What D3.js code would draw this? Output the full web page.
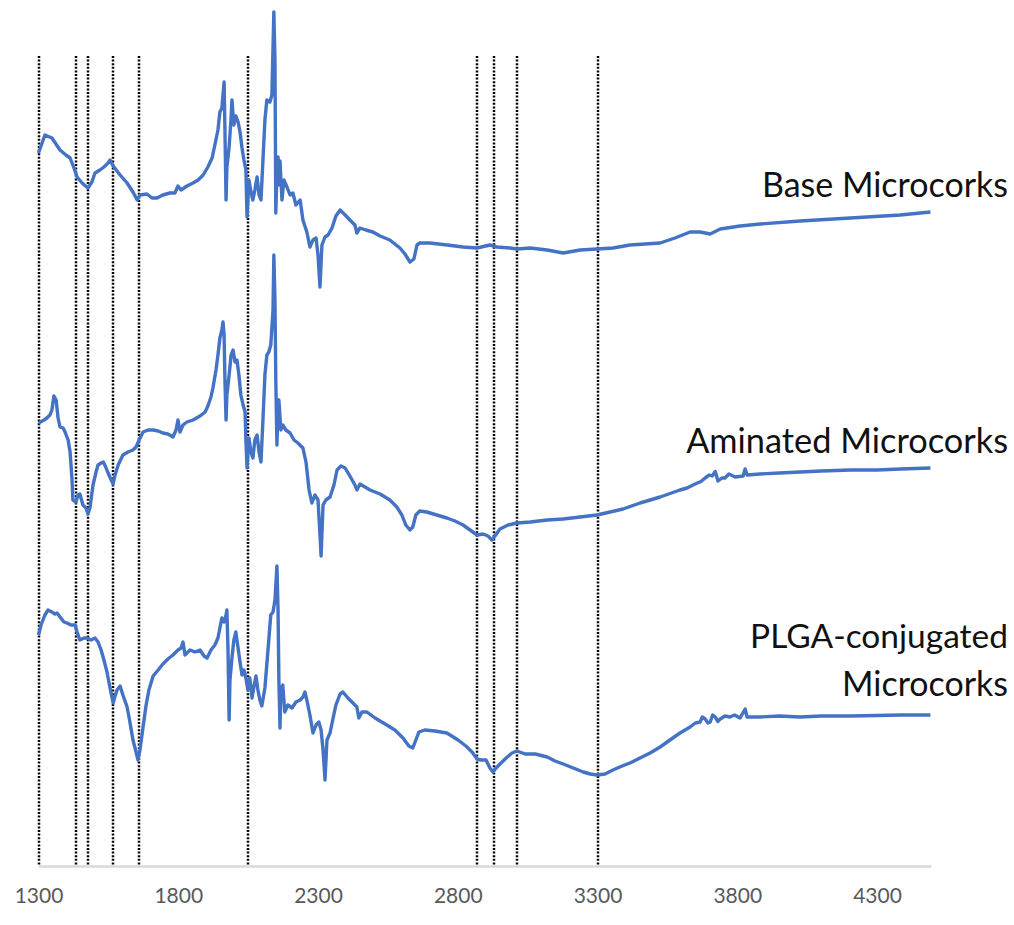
<!DOCTYPE html>
<html>
<head>
<meta charset="utf-8">
<script src="https://cdn.jsdelivr.net/npm/d3@7"></script>
<style>
  html, body { margin: 0; padding: 0; background: #fff; }
  svg { display: block; }
</style>
</head>
<body>
<svg id="chart" width="1014" height="925"></svg>
<script>
// FTIR spectra of cork microparticles, stacked with vertical offsets.
// Each series: [wavenumber (cm-1), offset intensity (a.u.)]
const baseMicrocorks = [
  [1300,142.6],[1323,146.2],[1348,145.6],[1377,143.2],[1398,142.2],[1413,141.6],[1427,139.6],[1438,137.8],
  [1456,136.6],[1477,135.6],[1491,136.8],[1502,138.6],[1520,139.2],[1534,139.8],[1549,140.6],[1556,141.2],
  [1567,140.0],[1592,138.2],[1617,136.6],[1638,134.8],[1653,133.2],[1663,134.2],[1688,134.4],[1706,133.6],
  [1724,133.6],[1745,134.2],[1770,134.6],[1788,134.6],[1799,136.0],[1810,135.2],[1831,136.0],[1853,136.6],
  [1871,137.2],[1889,138.2],[1906,139.8],[1921,141.6],[1931,144.2],[1942,147.2],[1949,150.8],[1956,151.6],
  [1964,156.8],[1967,147.2],[1971,133.2],[1974,139.8],[1982,143.8],[1989,149.6],[1992,153.2],[1999,148.2],
  [2006,150.0],[2014,148.8],[2021,146.8],[2028,143.6],[2035,141.2],[2042,139.2],[2046,129.8],[2053,137.2],
  [2060,134.8],[2067,133.2],[2074,135.2],[2082,137.8],[2089,134.2],[2096,133.2],[2103,141.2],[2110,149.2],
  [2117,153.2],[2128,152.8],[2135,154.2],[2142,170.8],[2146,161.2],[2149,130.6],[2153,139.2],[2157,141.8],
  [2160,136.2],[2164,141.0],[2171,133.2],[2178,137.2],[2189,135.8],[2200,134.2],[2210,134.6],[2221,132.2],
  [2236,133.2],[2246,129.2],[2260,126.8],[2271,123.8],[2282,125.2],[2293,125.6],[2300,122.2],[2307,115.8],
  [2314,124.2],[2325,125.8],[2336,126.2],[2350,127.6],[2364,130.0],[2379,131.2],[2397,130.2],[2414,129.2],
  [2432,128.2],[2439,126.6],[2450,127.6],[2471,127.2],[2496,126.8],[2522,126.0],[2557,125.2],[2593,123.6],
  [2611,122.4],[2629,120.8],[2643,121.4],[2654,124.2],[2664,124.6],[2700,124.6],[2762,124.2],[2819,123.8],
  [2869,123.6],[2915,124.2],[2940,123.8],[2987,123.6],[3012,123.4],[3059,123.6],[3120,123.2],[3177,122.6],
  [3238,123.2],[3298,123.4],[3355,123.6],[3416,124.2],[3470,124.4],[3524,124.6],[3577,125.6],[3631,126.8],
  [3667,126.8],[3703,126.4],[3739,127.4],[3810,128.0],[3882,128.4],[4025,129.0],[4204,129.6],[4383,130.2],
  [4491,130.8]
];

const aminatedMicrocorks = [
  [1300,88.6],[1320,89.2],[1330,89.6],[1341,90.2],[1348,91.2],[1355,94.0],[1363,93.2],[1370,89.6],
  [1377,87.8],[1388,87.6],[1395,86.8],[1406,85.2],[1413,82.8],[1420,77.2],[1423,73.2],[1434,72.8],
  [1441,74.2],[1448,74.4],[1459,72.2],[1470,71.6],[1477,70.4],[1484,71.6],[1495,76.2],[1506,78.8],
  [1513,80.2],[1524,80.6],[1532,80.8],[1542,79.6],[1549,78.6],[1560,77.2],[1567,76.4],[1574,78.2],
  [1585,80.2],[1602,82.2],[1620,82.8],[1638,83.2],[1649,83.8],[1660,85.2],[1674,86.8],[1692,87.2],
  [1710,87.2],[1728,87.0],[1745,86.6],[1763,86.4],[1781,85.8],[1792,87.2],[1799,89.2],[1806,86.8],
  [1817,88.2],[1831,88.8],[1853,89.2],[1878,90.0],[1896,90.8],[1906,92.0],[1917,93.8],[1924,95.6],
  [1935,99.2],[1942,102.2],[1949,105.6],[1956,107.2],[1960,108.8],[1964,106.2],[1967,97.2],[1971,89.2],
  [1974,94.2],[1982,98.2],[1989,102.2],[1996,103.2],[2003,100.8],[2010,101.2],[2017,98.2],[2024,94.2],
  [2032,92.2],[2039,90.8],[2042,85.2],[2046,79.6],[2053,85.6],[2060,82.8],[2067,81.6],[2074,85.2],
  [2082,86.2],[2089,82.8],[2096,80.8],[2103,89.2],[2110,98.2],[2117,102.2],[2124,102.8],[2131,104.2],
  [2139,111.2],[2142,122.2],[2146,113.2],[2149,97.2],[2153,84.2],[2157,92.2],[2160,93.2],[2167,87.2],
  [2174,88.2],[2185,87.2],[2200,86.6],[2214,85.2],[2228,84.6],[2246,83.6],[2257,80.8],[2268,75.2],
  [2278,72.6],[2289,74.2],[2300,73.2],[2307,66.2],[2311,62.0],[2318,72.2],[2328,73.2],[2343,73.8],
  [2357,76.2],[2368,79.2],[2382,80.0],[2397,79.6],[2414,78.0],[2432,76.2],[2439,75.2],[2450,76.4],
  [2468,75.8],[2486,75.2],[2522,74.4],[2557,73.2],[2582,71.8],[2600,70.2],[2614,68.2],[2629,67.2],
  [2639,67.8],[2650,70.2],[2664,71.0],[2689,70.8],[2725,70.2],[2761,69.6],[2790,69.0],[2819,68.2],
  [2844,67.2],[2869,66.2],[2890,66.4],[2908,66.0],[2922,65.2],[2933,66.0],[2951,67.4],[2980,68.2],
  [3012,68.6],[3059,68.8],[3120,69.2],[3177,69.4],[3238,69.8],[3298,70.2],[3345,70.8],[3391,71.4],
  [3452,72.6],[3524,73.8],[3595,75.2],[3620,75.6],[3649,76.4],[3670,76.9],[3685,77.6],[3700,78.2],
  [3710,78.0],[3721,78.9],[3731,77.0],[3745,77.6],[3756,77.6],[3770,78.4],[3792,77.8],[3821,78.0],
  [3828,79.4],[3835,78.2],[3882,78.4],[3950,78.6],[4025,78.8],[4100,79.0],[4204,79.2],[4300,79.2],
  [4383,79.4],[4491,79.6]
];

const plgaMicrocorks = [
  [1300,46.2],[1309,48.2],[1323,50.2],[1334,51.2],[1348,50.8],[1359,50.4],[1366,50.6],[1377,49.8],
  [1391,48.8],[1402,48.6],[1416,48.2],[1431,48.2],[1438,46.8],[1448,45.2],[1463,45.6],[1474,45.6],
  [1488,45.2],[1502,45.6],[1513,44.8],[1524,43.2],[1534,41.2],[1545,38.8],[1556,35.6],[1567,32.6],
  [1574,34.0],[1581,35.2],[1592,36.0],[1602,34.2],[1617,31.8],[1627,28.8],[1638,25.2],[1649,22.8],
  [1656,21.2],[1663,23.2],[1674,27.8],[1685,32.2],[1695,35.2],[1710,38.0],[1728,39.2],[1745,40.4],
  [1763,41.4],[1781,42.2],[1799,43.2],[1810,43.6],[1817,44.8],[1824,42.2],[1842,43.2],[1860,42.8],
  [1878,43.2],[1892,42.0],[1903,41.6],[1917,43.2],[1931,44.2],[1942,45.6],[1949,47.6],[1956,49.6],
  [1964,48.8],[1971,50.2],[1974,51.2],[1978,43.2],[1982,29.2],[1985,37.2],[1992,41.6],[1999,45.2],
  [2006,46.8],[2014,43.6],[2021,40.8],[2028,38.2],[2035,39.2],[2042,37.6],[2049,35.2],[2056,37.6],
  [2064,33.6],[2071,36.0],[2078,38.0],[2085,35.2],[2092,33.2],[2099,32.0],[2110,35.6],[2121,43.2],
  [2131,50.2],[2139,50.8],[2146,53.2],[2153,60.0],[2157,51.2],[2160,37.2],[2164,27.6],[2167,35.2],
  [2174,36.2],[2181,30.8],[2192,32.2],[2207,31.6],[2221,32.8],[2236,33.2],[2246,33.8],[2253,34.8],
  [2260,33.2],[2271,30.2],[2282,26.6],[2293,28.2],[2303,28.8],[2311,27.2],[2318,23.2],[2325,17.2],
  [2332,25.2],[2343,26.6],[2354,29.6],[2364,32.2],[2379,34.4],[2389,34.8],[2407,33.6],[2425,32.6],
  [2439,31.8],[2446,29.6],[2457,30.8],[2475,30.8],[2504,29.6],[2546,28.2],[2575,27.2],[2604,25.6],
  [2625,24.0],[2639,23.6],[2650,25.2],[2661,26.8],[2682,27.2],[2718,27.0],[2761,26.6],[2801,25.2],
  [2829,24.0],[2851,22.8],[2869,21.4],[2883,21.2],[2901,21.2],[2915,19.6],[2926,18.8],[2937,19.6],
  [2951,20.4],[2973,21.6],[2994,22.6],[3012,23.0],[3041,22.4],[3077,22.4],[3120,21.8],[3148,21.0],
  [3177,20.4],[3213,19.6],[3249,18.8],[3274,18.4],[3298,18.2],[3327,18.4],[3355,19.2],[3388,20.0],
  [3416,20.6],[3452,21.6],[3488,22.6],[3524,23.8],[3559,25.2],[3595,26.6],[3631,27.8],[3650,28.6],
  [3667,28.8],[3675,29.8],[3685,29.4],[3695,28.6],[3703,28.8],[3712,30.2],[3721,29.8],[3730,28.9],
  [3739,29.4],[3756,30.0],[3774,29.8],[3790,30.2],[3810,29.6],[3828,31.4],[3835,29.8],[3882,29.8],
  [3950,30.0],[4025,29.8],[4100,30.0],[4204,30.0],[4300,30.1],[4383,30.2],[4491,30.2]
];

// Marked band positions (cm-1)
const peakLines = [1300, 1434, 1477, 1567, 1658, 2048, 2868, 2931, 3013, 3300];
const peakLineTop = 162;

const tickValues = [1300, 1800, 2300, 2800, 3300, 3800, 4300];
const xDomain = [1300, 4493];
const yDomain = [0, 170];

const seriesNames = [["Base Microcorks"], ["Aminated Microcorks"], ["PLGA-conjugated", "Microcorks"]];

const svg = d3.select("#chart");
const x = d3.scaleLinear().domain(xDomain).range([38.5, 931]);
const y = d3.scaleLinear().domain(yDomain).range([866, 16]);

// dotted guide lines at the marked bands
svg.append("g")
  .selectAll("line")
  .data(peakLines)
  .join("line")
  .attr("x1", d => Math.round(x(d))).attr("x2", d => Math.round(x(d)))
  .attr("y1", y(peakLineTop)).attr("y2", y(0))
  .attr("stroke", "#000")
  .attr("stroke-width", 2.5)
  .attr("stroke-dasharray", "2,1.6");

// x axis
const axis = svg.append("g")
  .attr("transform", `translate(0,${y(0)})`)
  .call(d3.axisBottom(x).tickValues(tickValues).tickFormat(d3.format("d"))
    .tickSize(0).tickSizeOuter(0).tickPadding(22));
axis.select(".domain").attr("stroke", "#d9d9d9").attr("stroke-width", 2.5);
axis.selectAll(".tick text")
  .attr("fill", "#595959")
  .style("font-family", "Lato, 'Open Sans', sans-serif")
  .style("font-size", "21px");

// spectra
const line = d3.line().x(d => x(d[0])).y(d => y(d[1]));
[baseMicrocorks, aminatedMicrocorks, plgaMicrocorks].forEach(s => {
  svg.append("path")
    .datum(s)
    .attr("d", line)
    .attr("fill", "none")
    .attr("stroke", "#4472C4")
    .attr("stroke-width", 3.4)
    .attr("stroke-linejoin", "round");
});

// series labels, right-aligned
const labelBaselines = [[197], [453], [648, 696]];
const labelWidths = [[246], [322], [258, 166]];
seriesNames.forEach((lines, i) => {
  lines.forEach((t, j) => {
    const txt = svg.append("text")
      .attr("x", 1008)
      .attr("y", labelBaselines[i][j])
      .attr("text-anchor", "end")
      .attr("fill", "#111")
      .style("font-family", "Lato, 'Open Sans', sans-serif")
      .style("font-size", "30px")
      .text(t);
    const w = txt.node().getComputedTextLength();
    txt.style("font-size", (30 * labelWidths[i][j] / w).toFixed(2) + "px");
  });
});
</script>
</body>
</html>
